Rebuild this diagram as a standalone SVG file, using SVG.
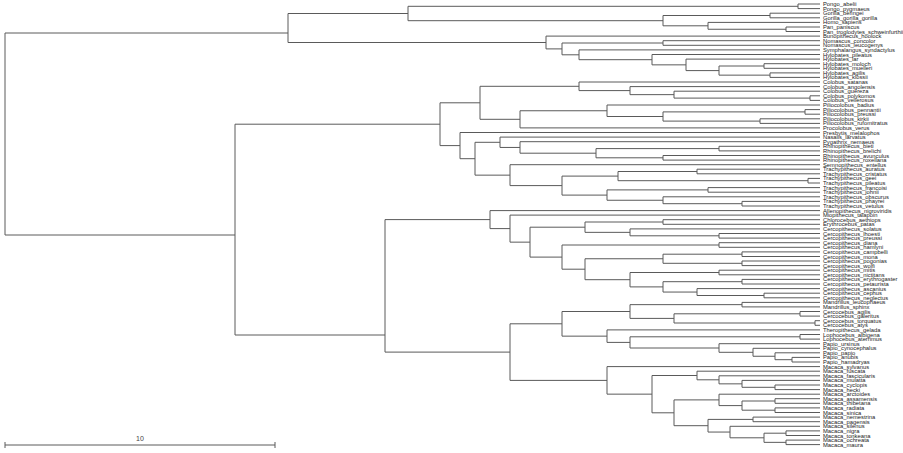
<svg xmlns="http://www.w3.org/2000/svg" width="903" height="453" viewBox="0 0 903 453">
<style>
.e{fill:none;stroke:#5a5a5a;stroke-width:1}
.t{font-family:"Liberation Sans",Arial,sans-serif;font-size:5.8px;fill:#222}
.s{font-family:"Liberation Sans",Arial,sans-serif;font-size:7px;fill:#444}
</style>
<rect width="903" height="453" fill="#fff"/>
<g id="connectors" class="e">
<path d="M5 33V235M5 33H288M5 235H235"/>
<path d="M288 13.5V42.5M288 13.5H408M288 42.5H546"/>
<path d="M408 6.3V20.7M408 6.3H798M408 20.7H663M798 4V8.6M798 4H820M798 8.6H820"/>
<path d="M663 15.5V25.8M663 15.5H770M663 25.8H708M770 13.2V17.8M770 13.2H820M770 17.8H820M708 22.4V29.25M708 22.4H820M708 29.25H786M786 27V31.5M786 27H820M786 31.5H820"/>
<path d="M546 36.1V48.9M546 36.1H820M546 48.9H562M562 43V54.8M562 43H663M562 54.8H579M663 40.7V45.3M663 40.7H820M663 45.3H820M579 49.9V59.7M579 49.9H820M579 59.7H652"/>
<path d="M652 54.5V64.85M652 54.5H820M652 64.85H686M686 59.1V70.6M686 59.1H820M686 70.6H719M719 66V75.15M719 66H764M719 75.15H770M764 63.7V68.3M764 63.7H820M764 68.3H820M770 72.9V77.4M770 72.9H820M770 77.4H820"/>
<path d="M235 124.2V335M235 124.2H440M235 335H385"/>
<path d="M440 102.8V145.6M440 102.8H480M440 145.6H460M480 86.3V119.3M480 86.3H579M480 119.3H520"/>
<path d="M579 82V90.6M579 82H820M579 90.6H630M630 86.6V94.65M630 86.6H820M630 94.65H674M674 91.2V98.1M674 91.2H820M674 98.1H810M810 95.8V100.4M810 95.8H820M810 100.4H820"/>
<path d="M520 110.75V127.9M520 110.75H607M520 127.9H820M607 105V116.5M607 105H820M607 116.5H663M663 111.9V121.1M663 111.9H805M663 121.1H760M805 109.6V114.2M805 109.6H820M805 114.2H820M760 118.8V123.4M760 118.8H820M760 123.4H820"/>
<path d="M460 132.5V158.7M460 132.5H820M460 158.7H475M475 142.3V175.15M475 142.3H500M475 175.15H510M500 137.1V147.45M500 137.1H820M500 147.45H520M520 141.7V153.2M520 141.7H820M520 153.2H596M596 148.6V157.8M596 148.6H719M596 157.8H663M719 146.3V150.9M719 146.3H820M719 150.9H820M663 155.5V160.1M663 155.5H820M663 160.1H820"/>
<path d="M510 164.7V185.6M510 164.7H820M510 185.6H562M562 176.1V195.1M562 176.1H618M562 195.1H607M618 171.5V180.7M618 171.5H697M618 180.7H808M697 169.2V173.8M697 169.2H820M697 173.8H820M808 178.4V183M808 178.4H820M808 183H820"/>
<path d="M607 189.9V200.25M607 189.9H708M607 200.25H663M708 187.6V192.2M708 187.6H820M708 192.2H820M663 196.8V203.7M663 196.8H820M663 203.7H742M742 201.4V206M742 201.4H820M742 206H820"/>
<path d="M385 219.6V352.1M385 219.6H490M385 352.1H510"/>
<path d="M490 210.6V228.6M490 210.6H820M490 228.6H510M510 215.1V242.15M510 215.1H820M510 242.15H530M530 227.2V257.1M530 227.2H585M530 257.1H562"/>
<path d="M585 222V232.35M585 222H663M585 232.35H630M663 219.7V224.3M663 219.7H820M663 224.3H820M630 228.9V235.8M630 228.9H820M630 235.8H719M719 233.5V238.1M719 233.5H820M719 238.1H820"/>
<path d="M562 245V269.2M562 245H719M562 269.2H585M719 242.7V247.3M719 242.7H820M719 247.3H820M585 258.75V279.7M585 258.75H663M585 279.7H630M663 254.2V263.3M663 254.2H742M663 263.3H742M742 251.9V256.5M742 251.9H820M742 256.5H820M742 261V265.6M742 261H820M742 265.6H820"/>
<path d="M630 272.5V286.9M630 272.5H719M630 286.9H663M719 270.2V274.8M719 270.2H820M719 274.8H820M663 281.7V292.05M663 281.7H742M663 292.05H697M742 279.4V284M742 279.4H820M742 284H820M697 288.6V295.5M697 288.6H820M697 295.5H764M764 293.2V297.8M764 293.2H820M764 297.8H820"/>
<path d="M510 323.8V380.4M510 323.8H562M510 380.4H607M562 311.5V336.15M562 311.5H630M562 336.15H607"/>
<path d="M630 304.65V318.4M630 304.65H742M630 318.4H674M742 302.4V306.9M742 302.4H820M742 306.9H820M674 313.8V323M674 313.8H800M674 323H815M800 311.5V316.1M800 311.5H820M800 316.1H820M815 320.7V325.3M815 320.7H820M815 325.3H820"/>
<path d="M607 329.9V342.4M607 329.9H820M607 342.4H630M630 336.8V348M630 336.8H800M630 348H719M800 334.5V339.1M800 334.5H820M800 339.1H820M719 343.7V352.3M719 343.7H820M719 352.3H753M753 348.3V356.25M753 348.3H820M753 356.25H775M775 352.8V359.7M775 352.8H820M775 359.7H792M792 357.4V362M792 357.4H820M792 362H820"/>
<path d="M607 366.6V394.15M607 366.6H820M607 394.15H652M652 375.5V412.8M652 375.5H697M652 412.8H674M697 371.2V379.8M697 371.2H820M697 379.8H719M719 375.8V383.85M719 375.8H820M719 383.85H742M742 380.4V387.3M742 380.4H820M742 387.3H775M775 385V389.6M775 385H820M775 389.6H820"/>
<path d="M674 399.9V425.7M674 399.9H719M674 425.7H708M719 394.2V405.6M719 394.2H820M719 405.6H742M742 401V410.2M742 401H775M742 410.2H775M775 398.7V403.3M775 398.7H820M775 403.3H820M775 407.9V412.5M775 407.9H820M775 412.5H820"/>
<path d="M708 419.4V432.05M708 419.4H753M708 432.05H730M753 417.1V421.7M753 417.1H820M753 421.7H820M730 426.3V437.8M730 426.3H820M730 437.8H764M764 433.2V442.35M764 433.2H786M764 442.35H786M786 430.9V435.5M786 430.9H820M786 435.5H820M786 440.1V444.6M786 440.1H820M786 444.6H820"/>
</g>
<g id="scalebar">
<path class="e" d="M5 445H275M5 442V448M275 442V448"/>
<text class="s" x="140" y="441" text-anchor="middle">10</text>
</g>
<g id="tips" class="t">
<g id="n1"><text x="823" y="6">Pongo_abelii</text></g>
<g id="n2"><text x="823" y="10.6">Pongo_pygmaeus</text></g>
<g id="n3"><text x="823" y="15.2">Gorilla_beringei</text></g>
<g id="n4"><text x="823" y="19.8">Gorilla_gorilla_gorilla</text></g>
<g id="n5"><text x="823" y="24.4">Homo_sapiens</text></g>
<g id="n6"><text x="823" y="29">Pan_paniscus</text></g>
<g id="n7"><text x="823" y="33.5">Pan_troglodytes_schweinfurthii</text></g>
<g id="n8"><text x="823" y="38.1">Bunopithecus_hoolock</text></g>
<g id="n9"><text x="823" y="42.7">Nomascus_concolor</text></g>
<g id="n10"><text x="823" y="47.3">Nomascus_leucogenys</text></g>
<g id="n11"><text x="823" y="51.9">Symphalangus_syndactylus</text></g>
<g id="n12"><text x="823" y="56.5">Hylobates_pileatus</text></g>
<g id="n13"><text x="823" y="61.1">Hylobates_lar</text></g>
<g id="n14"><text x="823" y="65.7">Hylobates_moloch</text></g>
<g id="n15"><text x="823" y="70.3">Hylobates_muelleri</text></g>
<g id="n16"><text x="823" y="74.9">Hylobates_agilis</text></g>
<g id="n17"><text x="823" y="79.4">Hylobates_klossii</text></g>
<g id="n18"><text x="823" y="84">Colobus_satanas</text></g>
<g id="n19"><text x="823" y="88.6">Colobus_angolensis</text></g>
<g id="n20"><text x="823" y="93.2">Colobus_guereza</text></g>
<g id="n21"><text x="823" y="97.8">Colobus_polykomos</text></g>
<g id="n22"><text x="823" y="102.4">Colobus_vellerosus</text></g>
<g id="n23"><text x="823" y="107">Piliocolobus_badius</text></g>
<g id="n24"><text x="823" y="111.6">Piliocolobus_pennantii</text></g>
<g id="n25"><text x="823" y="116.2">Piliocolobus_preussi</text></g>
<g id="n26"><text x="823" y="120.8">Piliocolobus_kirkii</text></g>
<g id="n27"><text x="823" y="125.4">Piliocolobus_rufomitratus</text></g>
<g id="n28"><text x="823" y="129.9">Procolobus_verus</text></g>
<g id="n29"><text x="823" y="134.5">Presbytis_melalophos</text></g>
<g id="n30"><text x="823" y="139.1">Nasalis_larvatus</text></g>
<g id="n31"><text x="823" y="143.7">Pygathrix_nemaeus</text></g>
<g id="n32"><text x="823" y="148.3">Rhinopithecus_bieti</text></g>
<g id="n33"><text x="823" y="152.9">Rhinopithecus_brelichi</text></g>
<g id="n34"><text x="823" y="157.5">Rhinopithecus_avunculus</text></g>
<g id="n35"><text x="823" y="162.1">Rhinopithecus_roxellana</text></g>
<g id="n36"><text x="823" y="166.7">Semnopithecus_entellus</text></g>
<g id="n37"><text x="823" y="171.2">Trachypithecus_auratus</text></g>
<g id="n38"><text x="823" y="175.8">Trachypithecus_cristatus</text></g>
<g id="n39"><text x="823" y="180.4">Trachypithecus_geei</text></g>
<g id="n40"><text x="823" y="185">Trachypithecus_pileatus</text></g>
<g id="n41"><text x="823" y="189.6">Trachypithecus_francoisi</text></g>
<g id="n42"><text x="823" y="194.2">Trachypithecus_johnii</text></g>
<g id="n43"><text x="823" y="198.8">Trachypithecus_obscurus</text></g>
<g id="n44"><text x="823" y="203.4">Trachypithecus_phayrei</text></g>
<g id="n45"><text x="823" y="208">Trachypithecus_vetulus</text></g>
<g id="n46"><text x="823" y="212.6">Allenopithecus_nigroviridis</text></g>
<g id="n47"><text x="823" y="217.1">Miopithecus_talapoin</text></g>
<g id="n48"><text x="823" y="221.7">Chlorocebus_aethiops</text></g>
<g id="n49"><text x="823" y="226.3">Erythrocebus_patas</text></g>
<g id="n50"><text x="823" y="230.9">Cercopithecus_solatus</text></g>
<g id="n51"><text x="823" y="235.5">Cercopithecus_lhoesti</text></g>
<g id="n52"><text x="823" y="240.1">Cercopithecus_preussi</text></g>
<g id="n53"><text x="823" y="244.7">Cercopithecus_diana</text></g>
<g id="n54"><text x="823" y="249.3">Cercopithecus_hamlyni</text></g>
<g id="n55"><text x="823" y="253.9">Cercopithecus_campbelli</text></g>
<g id="n56"><text x="823" y="258.5">Cercopithecus_mona</text></g>
<g id="n57"><text x="823" y="263">Cercopithecus_pogonias</text></g>
<g id="n58"><text x="823" y="267.6">Cercopithecus_wolfi</text></g>
<g id="n59"><text x="823" y="272.2">Cercopithecus_mitis</text></g>
<g id="n60"><text x="823" y="276.8">Cercopithecus_nictitans</text></g>
<g id="n61"><text x="823" y="281.4">Cercopithecus_erythrogaster</text></g>
<g id="n62"><text x="823" y="286">Cercopithecus_petaurista</text></g>
<g id="n63"><text x="823" y="290.6">Cercopithecus_ascanius</text></g>
<g id="n64"><text x="823" y="295.2">Cercopithecus_cephus</text></g>
<g id="n65"><text x="823" y="299.8">Cercopithecus_neglectus</text></g>
<g id="n66"><text x="823" y="304.4">Mandrillus_leucophaeus</text></g>
<g id="n67"><text x="823" y="308.9">Mandrillus_sphinx</text></g>
<g id="n68"><text x="823" y="313.5">Cercocebus_agilis</text></g>
<g id="n69"><text x="823" y="318.1">Cercocebus_galeritus</text></g>
<g id="n70"><text x="823" y="322.7">Cercocebus_torquatus</text></g>
<g id="n71"><text x="823" y="327.3">Cercocebus_atys</text></g>
<g id="n72"><text x="823" y="331.9">Theropithecus_gelada</text></g>
<g id="n73"><text x="823" y="336.5">Lophocebus_albigena</text></g>
<g id="n74"><text x="823" y="341.1">Lophocebus_aterrimus</text></g>
<g id="n75"><text x="823" y="345.7">Papio_ursinus</text></g>
<g id="n76"><text x="823" y="350.3">Papio_cynocephalus</text></g>
<g id="n77"><text x="823" y="354.8">Papio_papio</text></g>
<g id="n78"><text x="823" y="359.4">Papio_anubis</text></g>
<g id="n79"><text x="823" y="364">Papio_hamadryas</text></g>
<g id="n80"><text x="823" y="368.6">Macaca_sylvanus</text></g>
<g id="n81"><text x="823" y="373.2">Macaca_fuscata</text></g>
<g id="n82"><text x="823" y="377.8">Macaca_fascicularis</text></g>
<g id="n83"><text x="823" y="382.4">Macaca_mulatta</text></g>
<g id="n84"><text x="823" y="387">Macaca_cyclopis</text></g>
<g id="n85"><text x="823" y="391.6">Macaca_hecki</text></g>
<g id="n86"><text x="823" y="396.2">Macaca_arctoides</text></g>
<g id="n87"><text x="823" y="400.7">Macaca_assamensis</text></g>
<g id="n88"><text x="823" y="405.3">Macaca_thibetana</text></g>
<g id="n89"><text x="823" y="409.9">Macaca_radiata</text></g>
<g id="n90"><text x="823" y="414.5">Macaca_sinica</text></g>
<g id="n91"><text x="823" y="419.1">Macaca_nemestrina</text></g>
<g id="n92"><text x="823" y="423.7">Macaca_pagensis</text></g>
<g id="n93"><text x="823" y="428.3">Macaca_silenus</text></g>
<g id="n94"><text x="823" y="432.9">Macaca_nigra</text></g>
<g id="n95"><text x="823" y="437.5">Macaca_tonkeana</text></g>
<g id="n96"><text x="823" y="442.1">Macaca_ochreata</text></g>
<g id="n97"><text x="823" y="446.6">Macaca_maura</text></g>
</g>
</svg>
